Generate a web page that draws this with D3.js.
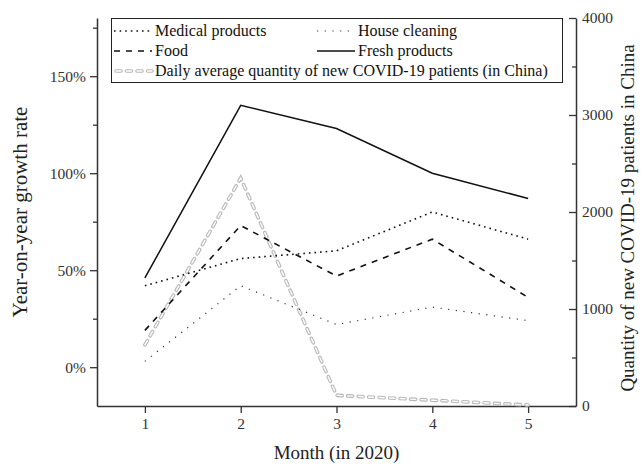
<!DOCTYPE html>
<html>
<head>
<meta charset="utf-8">
<script src="https://cdn.jsdelivr.net/npm/d3@7"></script>
<style>
  html, body { margin: 0; padding: 0; background: #fff; }
  svg { display: block; font-family: "Liberation Serif", "DejaVu Serif", serif; }
</style>
</head>
<body>
<svg id="chart" width="643" height="466"></svg>
<script>
// Months of 2020
const months = [1, 2, 3, 4, 5];

// Year-on-year growth rate (%) by product category
const medical = [42, 56, 60, 80, 66];
const houseCleaning = [3, 42, 22, 31, 24];
const food = [19, 73, 47, 66, 36];
const fresh = [46, 135, 123, 100, 87];

// Daily average number of new COVID-19 patients in China
const covid = [630, 2350, 110, 60, 10];

// Axis ticks
const leftMajor = [0, 50, 100, 150];
const leftMinor = [25, 75, 125, 175];
const rightMajor = [0, 1000, 2000, 3000, 4000];
const rightMinor = [500, 1500, 2500, 3500];

const svg = d3.select("#chart");
const L = 97, R = 576, T = 18, B = 406;
const axisColor = "#333";

const x = d3.scaleLinear().domain([0.5, 5.5]).range([L, R]);
const yL = d3.scaleLinear().domain([-20, 180]).range([B, T]);
const yR = d3.scaleLinear().domain([0, 4000]).range([B, T]);

function styleAxis(g) {
  g.selectAll("path.domain").attr("stroke", axisColor).attr("stroke-width", 1.5);
  g.selectAll(".tick line").attr("stroke", axisColor).attr("stroke-width", 1.3);
  g.selectAll(".tick text").attr("fill", "#333").style("font-size", "15.5px")
    .style("font-family", "Liberation Serif, serif");
}

// Left axis (growth rate)
const gL = svg.append("g").attr("transform", `translate(${L},0)`)
  .call(d3.axisLeft(yL).tickValues(leftMajor).tickSize(7).tickSizeOuter(0)
    .tickPadding(4).tickFormat(d => d + "%"));
styleAxis(gL);
svg.append("g").attr("transform", `translate(${L},0)`)
  .call(d3.axisLeft(yL).tickValues(leftMinor).tickSize(4).tickSizeOuter(0).tickFormat(""))
  .call(g => { g.select("path.domain").remove(); g.selectAll("line").attr("stroke", axisColor).attr("stroke-width", 1.3); });

// Right axis (patients), ticks pointing into the plot
const gR = svg.append("g").attr("transform", `translate(${R},0)`)
  .call(d3.axisRight(yR).tickValues(rightMajor).tickSizeInner(-7).tickSizeOuter(0)
    .tickPadding(6).tickFormat(d3.format("d")));
styleAxis(gR);
gR.selectAll(".tick text").attr("x", 6);
svg.append("g").attr("transform", `translate(${R},0)`)
  .call(d3.axisRight(yR).tickValues(rightMinor).tickSizeInner(-4).tickSizeOuter(0).tickFormat(""))
  .call(g => { g.select("path.domain").remove(); g.selectAll("line").attr("stroke", axisColor).attr("stroke-width", 1.3); });

// Bottom axis (months)
const gB = svg.append("g").attr("transform", `translate(0,${B})`)
  .call(d3.axisBottom(x).tickValues(months).tickSize(7).tickSizeOuter(0).tickPadding(5)
    .tickFormat(d3.format("d")));
styleAxis(gB);

// Axis titles
svg.append("text")
  .attr("transform", `translate(27,${(T + B) / 2}) rotate(-90)`)
  .attr("text-anchor", "middle").attr("fill", "#222")
  .style("font-size", "21px").text("Year-on-year growth rate");
svg.append("text")
  .attr("transform", `translate(634,${(T + B) / 2 + 6}) rotate(-90)`)
  .attr("text-anchor", "middle").attr("fill", "#222")
  .style("font-size", "19px").text("Quantity of new COVID-19 patients in China");
svg.append("text")
  .attr("x", (L + R) / 2).attr("y", 459)
  .attr("text-anchor", "middle").attr("fill", "#222")
  .style("font-size", "19px").text("Month (in 2020)");

// Line styles
const styles = {
  medical: { stroke: "#111", width: 1.6, dash: "1.6 4" },
  house: { stroke: "#333", width: 1.2, dash: "1.2 6.5" },
  food: { stroke: "#111", width: 1.6, dash: "6 6" },
  fresh: { stroke: "#111", width: 1.5, dash: null }
};

const lineL = d3.line().x((d, i) => x(months[i])).y(d => yL(d));
const lineR = d3.line().x((d, i) => x(months[i])).y(d => yR(d));

function drawLine(data, gen, st) {
  svg.append("path").datum(data).attr("d", gen)
    .attr("fill", "none").attr("stroke", st.stroke).attr("stroke-width", st.width)
    .attr("stroke-dasharray", st.dash);
}

// Hollow grey dashes for the COVID-19 series
function drawHollow(sel) {
  sel.append("path").attr("fill", "none").attr("stroke", "#b8b8b8").attr("stroke-width", 3.6)
    .attr("stroke-dasharray", "5 5.5").attr("stroke-linecap", "round");
  sel.append("path").attr("fill", "none").attr("stroke", "#fff").attr("stroke-width", 1.4)
    .attr("stroke-dasharray", "5 5.5").attr("stroke-linecap", "round");
}

const gc = svg.append("g");
drawHollow(gc);
gc.selectAll("path").attr("d", lineR(covid));

drawLine(houseCleaning, lineL, styles.house);
drawLine(food, lineL, styles.food);
drawLine(medical, lineL, styles.medical);
drawLine(fresh, lineL, styles.fresh);

// Legend
const lg = svg.append("g");
lg.append("rect").attr("x", 111.5).attr("y", 18.5).attr("width", 451).attr("height", 64)
  .attr("fill", "#fff").attr("stroke", "#222").attr("stroke-width", 1);

const legendItems = [
  { label: "Medical products", st: styles.medical, col: 0, row: 0 },
  { label: "House cleaning", st: styles.house, col: 1, row: 0 },
  { label: "Food", st: styles.food, col: 0, row: 1 },
  { label: "Fresh products", st: styles.fresh, col: 1, row: 1 }
];
const colX = [114, 317];
const rowY = [31, 51, 71];
legendItems.forEach(it => {
  const yy = rowY[it.row];
  lg.append("line").attr("x1", colX[it.col]).attr("x2", colX[it.col] + 38)
    .attr("y1", yy).attr("y2", yy)
    .attr("stroke", it.st.stroke).attr("stroke-width", it.st.width)
    .attr("stroke-dasharray", it.st.dash);
  lg.append("text").attr("x", colX[it.col] + 41).attr("y", yy + 5)
    .attr("fill", "#111").style("font-size", "16px").text(it.label);
});
const gcl = lg.append("g");
drawHollow(gcl);
gcl.selectAll("path").attr("d", `M${colX[0] + 2},${rowY[2]}H${colX[0] + 38}`);
lg.append("text").attr("x", colX[0] + 41).attr("y", rowY[2] + 5)
  .attr("fill", "#111").style("font-size", "16px")
  .text("Daily average quantity of new COVID-19 patients (in China)");
</script>
</body>
</html>
